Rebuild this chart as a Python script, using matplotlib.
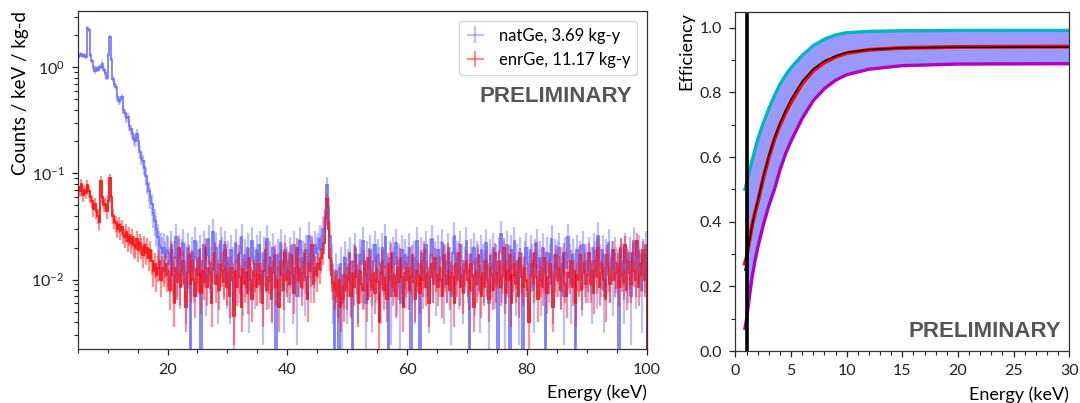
import numpy as np
import matplotlib
matplotlib.use("Agg")
import matplotlib.pyplot as plt
from matplotlib.ticker import MultipleLocator, LogLocator, NullFormatter

plt.rcParams['font.family'] = ['Lato', 'DejaVu Sans']
plt.rcParams['mathtext.fontset'] = 'custom'
plt.rcParams['mathtext.rm'] = 'Lato'
plt.rcParams['mathtext.it'] = 'Lato:italic'

# ---- spectrum data (counts / keV / kg-d, stored in units of 1e-4) ----
bin_width = 0.25
e_min, e_max = 5.0, 100.0
exposure_nat = 3.69 * 365.25   # kg-d
exposure_enr = 11.17 * 365.25  # kg-d

# 5 - 20 keV
nat_low = [12500, 13000, 13200, 12800, 13000, 12500, 23500, 22500,
           13000, 11500, 10000, 9200, 9800, 9500, 10000, 10100,
           10800, 9500, 8800, 8000, 13000, 19500, 12000, 7800,
           7000, 6500, 5200, 4800, 5000, 5200, 4000, 3700,
           3300, 3400, 2800, 2600, 2400, 2100, 2000, 2350,
           2000, 1600, 1400, 1300, 1150, 950, 800, 680,
           600, 520, 420, 360, 300, 250, 210, 200,
           180, 200, 160, 190]
enr_low = [750, 680, 800, 620, 700, 660, 780, 680,
           600, 550, 460, 520, 440, 400, 350, 850,
           600, 500, 520, 440, 550, 900, 600, 400,
           360, 340, 300, 330, 290, 310, 270, 250,
           280, 230, 260, 220, 250, 210, 200, 240,
           190, 220, 200, 170, 210, 180, 200, 160,
           190, 150, 120, 140, 110, 130, 150, 100,
           130, 120, 140, 110]

# 20 - 100 keV
nat_high = [180, 140, 210, 120, 160, 250, 130, 190, 110, 170, 220, 150, 90, 200, 140, 0, 180, 120, 230, 160,
            130, 190, 0, 150, 210, 100, 170, 240, 140, 120, 280, 160, 200, 90, 150, 230, 180, 130, 210, 110,
            160, 90, 190, 140, 60, 220, 150, 120, 180, 250, 100, 170, 130, 200, 80, 160, 230, 140, 110, 190,
            150, 210, 120, 70, 180, 140, 240, 110, 160, 90, 200, 130, 0, 170, 120, 220, 150, 80, 190, 140,
            120, 180, 150, 90, 210, 140, 70, 170, 230, 130, 160, 100, 190, 140, 260, 120, 170, 150, 210, 180,
            200, 240, 190, 300, 280, 450, 780, 480, 260, 150, 90, 0, 120, 90, 0, 140, 60, 110, 160, 90,
            130, 180, 100, 0, 150, 200, 120, 90, 170, 140, 230, 110, 60, 160, 130, 190, 80, 150, 210, 120,
            170, 140, 90, 200, 130, 250, 110, 0, 160, 70, 180, 140, 220, 100, 150, 60, 190, 130, 170, 110,
            140, 200, 0, 120, 160, 90, 230, 140, 0, 180, 110, 150, 210, 130, 80, 170, 240, 120, 160, 100,
            190, 130, 160, 220, 90, 150, 120, 200, 140, 70, 180, 260, 130, 160, 110, 210, 150, 90, 140, 230,
            120, 0, 170, 140, 200, 100, 160, 130, 80, 190, 150, 120, 220, 140, 60, 170, 130, 200, 110, 150,
            0, 180, 270, 120, 160, 60, 210, 140, 0, 190, 130, 230, 100, 150, 70, 180, 120, 0, 160, 200,
            140, 110, 190, 150, 80, 170, 220, 130, 160, 100, 200, 140, 0, 180, 120, 150, 240, 90, 170, 130,
            160, 200, 110, 140, 70, 180, 130, 250, 150, 90, 170, 120, 0, 190, 140, 160, 100, 210, 130, 150,
            120, 180, 140, 90, 200, 160, 110, 260, 150, 130, 190, 80, 170, 140, 220, 120, 160, 100, 180, 140,
            130, 0, 170, 150, 90, 200, 140, 120, 180, 70, 160, 230, 110, 150, 190, 130, 80, 170, 140, 210]
enr_high = [120, 80, 190, 110, 60, 130, 95, 200, 85, 120, 150, 90, 55, 115, 170, 90, 150, 100, 70, 125,
            110, 160, 75, 120, 95, 200, 85, 130, 115, 60, 125, 180, 90, 110, 80, 140, 120, 95, 190, 85,
            115, 70, 130, 100, 45, 120, 85, 170, 105, 55, 125, 90, 115, 75, 160, 100, 65, 120, 110, 85,
            140, 90, 110, 60, 120, 190, 80, 105, 130, 65, 115, 170, 85, 100, 55, 150, 110, 80, 180, 100,
            120, 90, 170, 110, 75, 130, 200, 100, 125, 85, 115, 180, 105, 65, 140, 120, 210, 90, 130, 110,
            140, 125, 160, 180, 220, 380, 570, 300, 160, 110, 95, 80, 90, 70, 100, 55, 85, 65, 110, 80,
            100, 140, 70, 115, 85, 170, 105, 60, 120, 90, 80, 150, 110, 65, 160, 100, 85, 115, 75, 130,
            95, 40, 115, 150, 80, 105, 65, 140, 100, 180, 85, 110, 70, 130, 95, 160, 105, 55, 115, 100,
            130, 80, 105, 170, 95, 65, 120, 110, 75, 150, 100, 190, 85, 115, 60, 105, 140, 90, 160, 110,
            85, 130, 100, 70, 170, 110, 90, 180, 80, 115, 105, 60, 140, 100, 180, 85, 110, 75, 120, 150,
            100, 80, 140, 110, 55, 120, 90, 170, 105, 70, 115, 85, 150, 100, 65, 130, 110, 80, 180, 90,
            115, 150, 85, 105, 200, 75, 120, 100, 170, 60, 110, 140, 90, 115, 70, 160, 105, 85, 130, 100,
            80, 40, 110, 140, 90, 180, 105, 65, 120, 100, 85, 160, 115, 75, 105, 140, 90, 55, 110, 170,
            100, 130, 80, 110, 180, 90, 70, 115, 105, 150, 85, 120, 60, 110, 100, 170, 80, 115, 140, 90,
            110, 180, 90, 120, 75, 150, 105, 200, 85, 115, 140, 100, 65, 170, 110, 90, 130, 190, 100, 115,
            140, 85, 200, 110, 95, 210, 80, 150, 115, 90, 180, 120, 100, 230, 85, 140, 110, 190, 100, 170]

# ---- efficiency data ----
eff_energy = [0.85, 1.0, 1.25, 1.5, 1.75, 2.0, 2.5, 3.0, 3.5, 4.0, 4.5, 5.0, 6.0, 7.0, 8.0, 9.0,
              10.0, 12.0, 15.0, 20.0, 30.0]
eff_upper = [0.50, 0.52, 0.555, 0.59, 0.623, 0.655, 0.705, 0.75, 0.79, 0.825, 0.853, 0.877, 0.915, 0.945,
             0.965, 0.978, 0.985, 0.989, 0.991, 0.992, 0.992]
eff_fit = [0.27, 0.29, 0.342, 0.39, 0.427, 0.46, 0.535, 0.60, 0.655, 0.70, 0.737, 0.77, 0.828, 0.868,
           0.893, 0.91, 0.922, 0.932, 0.938, 0.941, 0.942]
eff_lower = [0.07, 0.10, 0.168, 0.23, 0.278, 0.32, 0.39, 0.45, 0.50, 0.56, 0.61, 0.65, 0.72, 0.775,
             0.812, 0.838, 0.855, 0.872, 0.883, 0.888, 0.889]
eff_data = [0.25, 0.28, 0.338, 0.39, 0.43, 0.465, 0.54, 0.605, 0.66, 0.705, 0.745, 0.78, 0.835, 0.873,
            0.898, 0.913, 0.924, 0.933, 0.938, 0.94, 0.94]
threshold = 1.0


def spectrum(low, high, exposure):
    rate = np.array(low + high, dtype=float) * 1e-4
    norm = bin_width * exposure
    err = np.sqrt(rate * norm) / norm
    lo = np.minimum(err, rate * 0.999)
    return rate, np.vstack([lo, err])


edges = np.arange(e_min, e_max + bin_width / 2, bin_width)
centers = 0.5 * (edges[1:] + edges[:-1])
nat_rate, nat_err = spectrum(nat_low, nat_high, exposure_nat)
enr_rate, enr_err = spectrum(enr_low, enr_high, exposure_enr)

fig = plt.figure(figsize=(10.8, 4.03), dpi=100)
ax1 = fig.add_axes([0.0719, 0.133, 0.527, 0.840])
ax2 = fig.add_axes([0.681, 0.129, 0.309, 0.842])

# ---- left: spectra ----
h_nat = ax1.errorbar(centers, nat_rate, xerr=bin_width / 2, yerr=nat_err, fmt='none',
                     ecolor='#7070ff', elinewidth=1.6, alpha=0.45, label='natGe, 3.69 kg-y')
ax1.stairs(nat_rate, edges, color='#4545ff', lw=1.2, alpha=0.75)
h_enr = ax1.errorbar(centers, enr_rate, xerr=bin_width / 2, yerr=enr_err, fmt='none',
                     ecolor='#ff2020', elinewidth=1.6, alpha=0.5, label='enrGe, 11.17 kg-y')
ax1.stairs(enr_rate, edges, color='red', lw=1.2)

ax1.set_yscale('log')
ax1.set_xlim(e_min, e_max)
ax1.set_ylim(0.0022, 3.4)
ax1.xaxis.set_major_locator(MultipleLocator(20))
ax1.xaxis.set_minor_locator(MultipleLocator(5))
ax1.yaxis.set_minor_locator(LogLocator(base=10, subs=np.arange(2, 10)))
ax1.yaxis.set_minor_formatter(NullFormatter())
ax1.set_xlabel('Energy (keV)', fontsize=13, loc='right', labelpad=6)
ax1.set_ylabel('Counts / keV / kg-d', fontsize=13.5, loc='top', labelpad=2)
leg = ax1.legend(handles=[h_nat, h_enr], loc='upper right', fontsize=12,
                 frameon=True, borderaxespad=0.6, handlelength=1.2)
leg.get_frame().set_edgecolor('#cccccc')
ax1.text(0.975, 0.748, 'PRELIMINARY', transform=ax1.transAxes, ha='right', va='center',
         fontsize=16, fontweight='bold', color='#555555', family='Liberation Sans')

# ---- right: efficiency ----
ax2.fill_between(eff_energy, eff_lower, eff_upper, color='#9999ff', lw=0)
ax2.plot(eff_energy, eff_upper, color='#00b8b8', lw=2.4)
ax2.plot(eff_energy, eff_lower, color='#b000c0', lw=2.4)
ax2.plot(eff_energy, eff_fit, color='red', lw=2.8)
ax2.plot(eff_energy, eff_data, color='black', lw=1.0)
ax2.axvline(threshold, color='black', lw=2.6)
ax2.set_xlim(0, 30)
ax2.set_ylim(0, 1.05)
ax2.xaxis.set_major_locator(MultipleLocator(5))
ax2.xaxis.set_minor_locator(MultipleLocator(1))
ax2.yaxis.set_major_locator(MultipleLocator(0.2))
ax2.yaxis.set_minor_locator(MultipleLocator(0.1))
ax2.set_xlabel('Energy (keV)', fontsize=13, loc='right', labelpad=6)
ax2.set_ylabel('Efficiency', fontsize=13, loc='top', labelpad=4)
ax2.text(0.975, 0.057, 'PRELIMINARY', transform=ax2.transAxes, ha='right', va='center',
         fontsize=16, fontweight='bold', color='#555555', family='Liberation Sans')

for ax in (ax1, ax2):
    ax.tick_params(which='both', direction='out', top=False, right=False, labelsize=11.5, colors='#222222')
    ax.tick_params(which='major', length=4.5, width=0.9, pad=5)
    ax.tick_params(which='minor', length=3, width=0.8)
    for s in ax.spines.values():
        s.set_color('#333333')
        s.set_linewidth(0.9)

fig.savefig('out.png', dpi=100)
